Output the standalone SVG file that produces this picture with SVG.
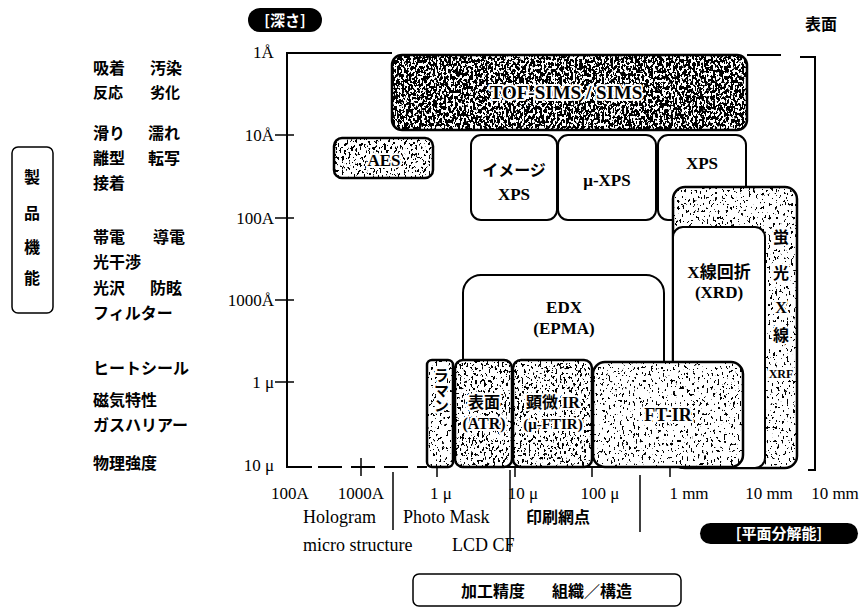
<svg xmlns="http://www.w3.org/2000/svg" width="863" height="608" viewBox="0 0 863 608">
<style>
  .ln{stroke:#000;stroke-width:2;fill:none}
  .thin{stroke:#000;stroke-width:1.5;fill:none}
  .box{fill:#fff;stroke:#000;stroke-width:2}
  .tbox{fill:none;stroke:#000;stroke-width:2.5}
  .ser{font-family:"Liberation Serif","Times New Roman",serif;fill:#000}
  .jp{font-family:"Noto Sans CJK JP","Noto Sans CJK SC",sans-serif;font-weight:700;fill:#000}
  .lbl{font-family:"Liberation Serif","Noto Sans CJK JP",serif;font-weight:700;fill:#000;text-anchor:middle}
  .halo{stroke:#fff;stroke-width:4;paint-order:stroke;stroke-linejoin:round}
  .wt{font-family:"Noto Sans CJK JP","Noto Sans CJK SC",sans-serif;font-weight:700;fill:#fff;text-anchor:middle}
</style>
<defs>
  <filter id="gDark" x="0" y="0" width="1" height="1" color-interpolation-filters="sRGB">
    <feTurbulence type="fractalNoise" baseFrequency="0.45 0.3" numOctaves="2" seed="4" result="n"/>
    <feColorMatrix in="n" type="matrix" values="0 0 0 0 0  0 0 0 0 0  0 0 0 0 0  40 0 0 0 -18.8" result="d"/>
    <feComposite in="d" in2="SourceAlpha" operator="in"/>
  </filter>
  <filter id="gMid" x="0" y="0" width="1" height="1" color-interpolation-filters="sRGB">
    <feTurbulence type="fractalNoise" baseFrequency="0.45 0.3" numOctaves="2" seed="9" result="n"/>
    <feColorMatrix in="n" type="matrix" values="0 0 0 0 0  0 0 0 0 0  0 0 0 0 0  40 0 0 0 -23.6" result="d"/>
    <feComposite in="d" in2="SourceAlpha" operator="in"/>
  </filter>
  <filter id="gLight" x="0" y="0" width="1" height="1" color-interpolation-filters="sRGB">
    <feTurbulence type="fractalNoise" baseFrequency="0.45 0.3" numOctaves="2" seed="17" result="n"/>
    <feColorMatrix in="n" type="matrix" values="0 0 0 0 0  0 0 0 0 0  0 0 0 0 0  40 0 0 0 -25.6" result="d"/>
    <feComposite in="d" in2="SourceAlpha" operator="in"/>
  </filter>
</defs>
<rect width="863" height="608" fill="#fff"/>

<!-- headings -->
<g id="depth-label">
  <rect x="248" y="8" width="74" height="24" rx="12" fill="#000"/>
  <text class="wt" x="285" y="26" font-size="15">[深さ]</text>
</g>
<g id="surface-label"><text class="jp" x="821" y="30" font-size="16" text-anchor="middle">表面</text></g>
<g id="plane-label">
  <rect x="700" y="523" width="158" height="21" rx="10.5" fill="#000"/>
  <text class="wt" x="779" y="539" font-size="15">[平面分解能]</text>
</g>

<!-- product function box -->
<g id="product-function">
  <rect x="12" y="147" width="41" height="166" rx="6" class="thin"/>
  <g class="jp" font-size="16" text-anchor="middle">
    <text x="32" y="183">製</text>
    <text x="32" y="219">品</text>
    <text x="32" y="253">機</text>
    <text x="32" y="284">能</text>
  </g>
</g>

<!-- left property list -->
<g id="properties" class="jp" font-size="16">
  <text x="93" y="74">吸着</text><text x="150" y="74">汚染</text>
  <text x="93" y="98" font-size="15">反応</text><text x="150" y="98" font-size="15">劣化</text>
  <text x="93" y="139">滑り</text><text x="148" y="139">濡れ</text>
  <text x="93" y="164">離型</text><text x="148" y="164">転写</text>
  <text x="93" y="189">接着</text>
  <text x="93" y="243">帯電</text><text x="153" y="243">導電</text>
  <text x="93" y="268">光干渉</text>
  <text x="93" y="294">光沢</text><text x="150" y="294">防眩</text>
  <text x="93" y="319">フィルター</text>
  <text x="93" y="374">ヒートシール</text>
  <text x="93" y="406">磁気特性</text>
  <text x="93" y="431">ガスハリアー</text>
  <text x="93" y="469">物理強度</text>
</g>

<!-- axes and frame -->
<g id="axes">
  <polyline class="ln" points="392,53 287,53 287,467 312,467"/>
  <line class="ln" x1="318" y1="467" x2="427" y2="467" stroke-dasharray="24 9"/>
  <line class="ln" x1="747" y1="55" x2="781" y2="55"/>
  <polyline class="ln" points="800,57 815,57 815,470 808,470"/>
  <g class="thin">
    <line x1="275" y1="135" x2="294" y2="135"/>
    <line x1="275" y1="218" x2="294" y2="218"/>
    <line x1="275" y1="300" x2="294" y2="300"/>
    <line x1="275" y1="382" x2="294" y2="382"/>
    <line x1="361" y1="458" x2="361" y2="476"/>
    <line x1="437" y1="468" x2="437" y2="477"/>
    <line x1="515" y1="468" x2="515" y2="477"/>
    <line x1="592" y1="468" x2="592" y2="477"/>
    <line x1="670" y1="468" x2="670" y2="477"/>
    <line x1="393" y1="472" x2="393" y2="530"/>
    <line x1="510" y1="470" x2="510" y2="552"/>
    <line x1="640" y1="475" x2="640" y2="532"/>
  </g>
  <g class="ser" font-size="17">
    <text x="253" y="58">1Å</text>
    <text x="274" y="141" text-anchor="end">10Å</text>
    <text x="274" y="224" text-anchor="end">100A</text>
    <text x="274" y="306" text-anchor="end">1000Å</text>
    <text x="274" y="388" text-anchor="end">1 μ</text>
    <text x="274" y="471" text-anchor="end">10 μ</text>
  </g>
  <g class="ser" font-size="17" text-anchor="middle">
    <text x="290" y="499">100A</text>
    <text x="361" y="499">1000A</text>
    <text x="441" y="499">1 μ</text>
    <text x="523" y="499">10 μ</text>
    <text x="600" y="499">100 μ</text>
    <text x="689" y="499">1 mm</text>
    <text x="769" y="499">10 mm</text>
    <text x="835" y="499">10 mm</text>
  </g>
  <g class="ser" font-size="18">
    <text x="303" y="523">Hologram</text>
    <text x="403" y="523">Photo Mask</text>
    <text x="303" y="551">micro structure</text>
    <text x="452" y="551">LCD CF</text>
  </g>
  <text class="jp" x="526" y="523" font-size="16">印刷網点</text>
</g>

<!-- bottom category box -->
<g id="processing">
  <rect x="413" y="574" width="268" height="32" rx="6" class="thin"/>
  <text class="jp" x="461" y="597" font-size="16">加工精度</text>
  <text class="jp" x="552" y="597" font-size="16">組織／構造</text>
</g>

<!-- methods -->
<g id="sims">
  <rect x="392" y="55" width="355" height="75" rx="10" fill="#fff"/>
  <rect x="392" y="55" width="355" height="75" rx="10" fill="#000" filter="url(#gDark)"/>
  <rect x="392" y="55" width="355" height="75" rx="10" class="tbox"/>
  <text class="lbl halo" x="566" y="99" font-size="19">TOF-SIMS / SIMS</text>
</g>
<g id="aes">
  <rect x="334" y="138" width="99" height="40" rx="8" fill="#fff"/>
  <rect x="334" y="138" width="99" height="40" rx="8" fill="#000" filter="url(#gMid)"/>
  <rect x="334" y="138" width="99" height="40" rx="8" class="tbox"/>
  <text class="lbl halo" x="384" y="166" font-size="17">AES</text>
</g>
<g id="image-xps">
  <rect x="471" y="135" width="86" height="85" rx="10" class="box"/>
  <text class="lbl" x="514" y="176" font-size="16">イメージ</text>
  <text class="lbl" x="514" y="200" font-size="17">XPS</text>
</g>
<g id="micro-xps">
  <rect x="558" y="135" width="98" height="85" rx="10" class="box"/>
  <text class="lbl" x="607" y="186" font-size="17">μ-XPS</text>
</g>
<g id="xps">
  <rect x="658" y="135" width="88" height="85" rx="10" class="box"/>
  <text class="lbl" x="702" y="169" font-size="17">XPS</text>
</g>
<g id="xrf">
  <rect x="673" y="187" width="124" height="281" rx="12" fill="#fff"/>
  <rect x="673" y="187" width="124" height="281" rx="12" fill="#000" filter="url(#gLight)"/>
  <rect x="673" y="187" width="124" height="281" rx="12" class="tbox"/>
  <g class="lbl halo" font-size="16">
    <text x="781" y="243">蛍</text>
    <text x="781" y="279">光</text>
    <text x="781" y="313">X</text>
    <text x="781" y="341">線</text>
    <text x="781" y="378" font-size="12">XRF</text>
  </g>
</g>
<g id="xrd">
  <rect x="673" y="227" width="92" height="241" rx="10" class="box"/>
  <text class="lbl" x="719" y="278" font-size="17">X線回折</text>
  <text class="lbl" x="719" y="298" font-size="17">(XRD)</text>
</g>
<g id="edx">
  <rect x="463" y="275" width="201" height="192" rx="18" class="box"/>
  <text class="lbl" x="564" y="313" font-size="17">EDX</text>
  <text class="lbl" x="564" y="334" font-size="17">(EPMA)</text>
</g>
<g id="raman">
  <rect x="427" y="360" width="26" height="107" rx="5" fill="#fff"/>
  <rect x="427" y="360" width="26" height="107" rx="5" fill="#000" filter="url(#gLight)"/>
  <rect x="427" y="360" width="26" height="107" rx="5" class="tbox"/>
  <text class="lbl halo" x="440" y="390" font-size="15" writing-mode="vertical-rl">ラマン</text>
</g>
<g id="atr">
  <rect x="455" y="360" width="57" height="107" rx="8" fill="#fff"/>
  <rect x="455" y="360" width="57" height="107" rx="8" fill="#000" filter="url(#gMid)"/>
  <rect x="455" y="360" width="57" height="107" rx="8" class="tbox"/>
  <text class="lbl halo" x="484" y="408" font-size="16">表面</text>
  <text class="lbl halo" x="484" y="429" font-size="16">(ATR)</text>
</g>
<g id="micro-ftir">
  <rect x="513" y="360" width="79" height="107" rx="8" fill="#fff"/>
  <rect x="513" y="360" width="79" height="107" rx="8" fill="#000" filter="url(#gMid)"/>
  <rect x="513" y="360" width="79" height="107" rx="8" class="tbox"/>
  <text class="lbl halo" x="553" y="408" font-size="16">顕微 IR</text>
  <text class="lbl halo" x="553" y="429" font-size="15">(μ-FTIR)</text>
</g>
<g id="ftir">
  <rect x="593" y="362" width="150" height="105" rx="12" fill="#fff"/>
  <rect x="593" y="362" width="150" height="105" rx="12" fill="#000" filter="url(#gLight)"/>
  <rect x="593" y="362" width="150" height="105" rx="12" class="tbox"/>
  <text class="lbl halo" x="668" y="421" font-size="18">FT-IR</text>
</g>
<g id="connectors"/>
</svg>
